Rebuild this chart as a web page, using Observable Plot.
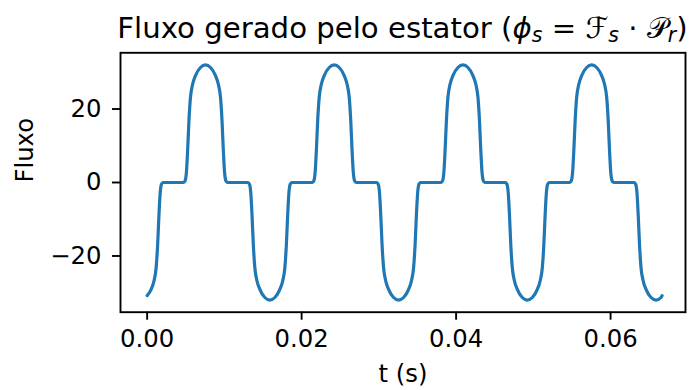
<!DOCTYPE html>
<html>
<head>
<meta charset="utf-8">
<script src="https://cdn.jsdelivr.net/npm/d3@7"></script>
<script src="https://cdn.jsdelivr.net/npm/@observablehq/plot@0.6"></script>
<style>
  html, body { margin: 0; padding: 0; background: #ffffff; }
  #wrap { position: relative; width: 689px; height: 390px; overflow: hidden; background: #ffffff; }
  #title {
    position: absolute; left: 0; top: 0; width: 805px; height: 40px;
    padding-top: 8px; line-height: 40px; text-align: center; white-space: nowrap;
    font-family: "DejaVu Sans", sans-serif; font-size: 29.2px; color: #000;
  }
  #title .it { font-style: italic; }
  #title .sub { font-size: 0.7em; position: relative; top: 0.22em; font-style: italic; }
  #title .cal { font-family: "DejaVu Sans", "DejaVu Serif", "Noto Sans", serif; }
  #chart { position: absolute; left: 0; top: 50px; }
</style>
</head>
<body>
<div id="wrap">
  <div id="title">Fluxo gerado pelo estator (<span class="it">ϕ</span><span class="sub">s</span> = <span class="cal">ℱ</span><span class="sub">s</span> · <span class="cal">𝒫</span><span class="sub">r</span>)</div>
  <div id="chart"></div>
</div>
<script>
// time (s)
const t = [
  0, 0.000515, 0.000904, 0.001163, 0.001357, 0.001525, 0.001681, 0.001849, 0.002043,
  0.004730, 0.004924, 0.005092, 0.005248, 0.005416, 0.005610, 0.005869, 0.006258, 0.006905, 0.007553,
  0.008201, 0.008848, 0.009237, 0.009496, 0.009690, 0.009858, 0.010014, 0.010182, 0.010376,
  0.013063, 0.013257, 0.013425, 0.013581, 0.013749, 0.013943, 0.014202, 0.014591, 0.015238, 0.015886,
  0.016534, 0.017181, 0.017570, 0.017829, 0.018023, 0.018191, 0.018347, 0.018515, 0.018709,
  0.021397, 0.021591, 0.021759, 0.021915, 0.022083, 0.022277, 0.022536, 0.022925, 0.023572, 0.024220,
  0.024868, 0.025515, 0.025904, 0.026163, 0.026357, 0.026525, 0.026681, 0.026849, 0.027043,
  0.029730, 0.029924, 0.030092, 0.030248, 0.030416, 0.030610, 0.030869, 0.031258, 0.031905, 0.032553,
  0.033201, 0.033848, 0.034237, 0.034496, 0.034690, 0.034858, 0.035014, 0.035182, 0.035376,
  0.038063, 0.038257, 0.038425, 0.038581, 0.038749, 0.038943, 0.039202, 0.039591, 0.040238, 0.040886,
  0.041534, 0.042181, 0.042570, 0.042829, 0.043023, 0.043191, 0.043347, 0.043515, 0.043709,
  0.046396, 0.046590, 0.046758, 0.046914, 0.047082, 0.047276, 0.047535, 0.047924, 0.048571, 0.049219,
  0.049867, 0.050514, 0.050903, 0.051162, 0.051356, 0.051524, 0.051680, 0.051848, 0.052042,
  0.054730, 0.054924, 0.055092, 0.055248, 0.055416, 0.055610, 0.055869, 0.056258, 0.056905, 0.057553,
  0.058201, 0.058848, 0.059237, 0.059496, 0.059690, 0.059858, 0.060014, 0.060182, 0.060376,
  0.063063, 0.063257, 0.063425, 0.063581, 0.063749, 0.063943, 0.064202, 0.064591, 0.065238, 0.065886,
  0.066534, 0.066667
];
// flux values
const fluxo = [
  -30.8, -29.1, -26.6, -23.2, -17, -9, -3, -0.5, 0,
  0, 0.5, 3, 9, 17, 23.2, 26.6, 29.1, 31.3, 32,
  31.3, 29.1, 26.6, 23.2, 17, 9, 3, 0.5, 0,
  0, -0.5, -3, -9, -17, -23.2, -26.6, -29.1, -31.3, -32,
  -31.3, -29.1, -26.6, -23.2, -17, -9, -3, -0.5, 0,
  0, 0.5, 3, 9, 17, 23.2, 26.6, 29.1, 31.3, 32,
  31.3, 29.1, 26.6, 23.2, 17, 9, 3, 0.5, 0,
  0, -0.5, -3, -9, -17, -23.2, -26.6, -29.1, -31.3, -32,
  -31.3, -29.1, -26.6, -23.2, -17, -9, -3, -0.5, 0,
  0, 0.5, 3, 9, 17, 23.2, 26.6, 29.1, 31.3, 32,
  31.3, 29.1, 26.6, 23.2, 17, 9, 3, 0.5, 0,
  0, -0.5, -3, -9, -17, -23.2, -26.6, -29.1, -31.3, -32,
  -31.3, -29.1, -26.6, -23.2, -17, -9, -3, -0.5, 0,
  0, 0.5, 3, 9, 17, 23.2, 26.6, 29.1, 31.3, 32,
  31.3, 29.1, 26.6, 23.2, 17, 9, 3, 0.5, 0,
  0, -0.5, -3, -9, -17, -23.2, -26.6, -29.1, -31.3, -32,
  -31.3, -30.8
];
const xTicks = [0, 0.02, 0.04, 0.06];
const yTicks = [-20, 0, 20];
const xLabel = "t (s)";
const yLabel = "Fluxo";

const data = t.map((d, i) => ({t: d, f: fluxo[i]}));

const chart = Plot.plot({
  width: 689,
  height: 340,
  marginTop: 2.3,
  marginBottom: 78.3,
  marginLeft: 120,
  marginRight: 4,
  style: {fontFamily: "DejaVu Sans", fontSize: "24.3px", color: "#000", background: "#fff", overflow: "visible"},
  x: {domain: [-0.00345, 0.0697]},
  y: {domain: [-35.3, 35.3]},
  marks: [
    Plot.axisX({ticks: xTicks, tickFormat: d3.format(".2f"), tickSize: 8, tickPadding: 10, strokeWidth: 1.9, label: null}),
    Plot.axisY({ticks: yTicks, tickFormat: d3.format("d"), tickSize: 8, tickPadding: 11, strokeWidth: 1.9, label: null}),
    Plot.line(data, {x: "t", y: "f", stroke: "#1f77b4", strokeWidth: 3.2, curve: "monotone-x"}),
    Plot.frame({stroke: "#000", strokeWidth: 1.9}),
    Plot.text([yLabel], {text: d => d, frameAnchor: "left", dx: -94.8, rotate: -90, fill: "#000"}),
    Plot.text([xLabel], {text: d => d, frameAnchor: "bottom", dy: 70, fill: "#000"})
  ]
});
document.getElementById("chart").appendChild(chart);
</script>
</body>
</html>
